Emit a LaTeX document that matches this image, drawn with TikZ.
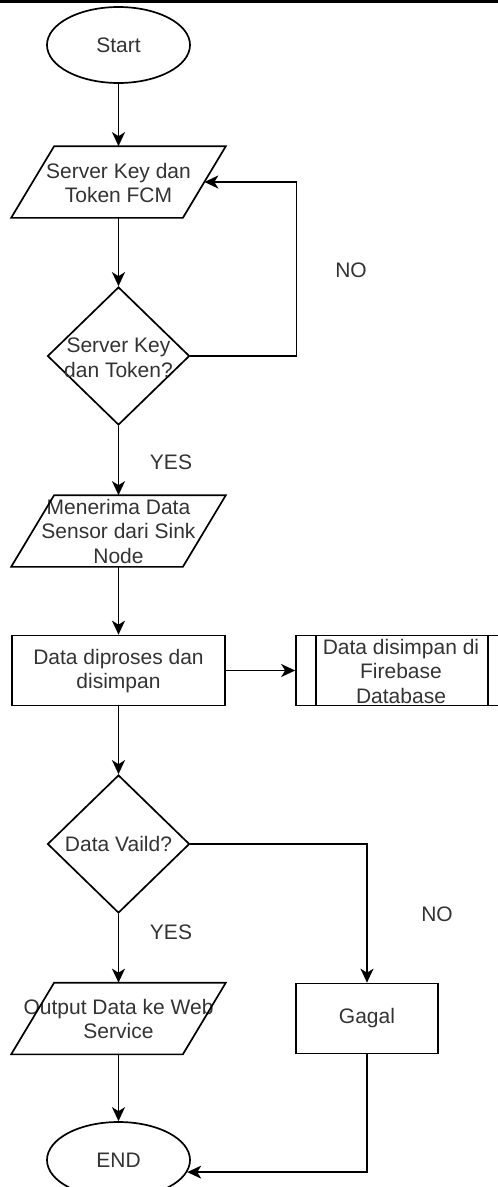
\documentclass[tikz,border=0pt]{standalone}
\usepackage{fontspec}
\setmainfont{Liberation Sans}
\usetikzlibrary{shapes.geometric,arrows.meta}

\begin{document}
\begin{tikzpicture}[x=1pt,y=-1pt,line width=1.7pt]
        \tikzset{every node/.style={font=\fontsize{21}{24.5}\selectfont,text=black!80},
            terminal/.style={draw,ellipse,minimum width=143pt,minimum height=76pt,inner sep=0pt},
            io/.style={rectangle,minimum width=170pt,minimum height=70pt,inner sep=0pt},
            decision/.style={draw,diamond,minimum width=142pt,minimum height=138pt,inner sep=0pt},
            process/.style={draw,rectangle,minimum width=213pt,minimum height=70pt,inner sep=0pt},
            subproc/.style={process,minimum width=212pt},
            inside/.style={align=center,inner sep=0pt},
            arrow/.style={draw,-{Stealth[length=14pt,width=13pt,inset=4pt]}}}
        \useasboundingbox (0,0) rectangle (498,1187);
        \fill (0,0) rectangle (498,3);
        % left column
        \node[terminal] (start) at (118.5,45) {Start};
        \node[io] (in1) at (118.5,182) {};
        \node[inside] (in1txt) at (118.5,183) {Server Key dan\\Token FCM};
        \node[decision] (dec1) at (118.5,356) {};
        \node[inside] (dec1txt) at (118.5,358) {Server Key\\dan Token?};
        \node[io] (in2) at (118.5,531) {};
        \node[inside] (in2txt) at (118.5,531) {Menerima Data\\Sensor dari Sink\\Node};
        \node[process] (proc) at (118.5,670.5) {};
        \node[inside] (proctxt) at (118.5,671) {Data diproses dan\\disimpan};
        \node[decision] (dec2) at (118.5,844) {};
        \node[inside] (dec2txt) at (118.5,844) {Data Vaild?};
        \node[io] (out) at (118.5,1018.5) {};
        \node[inside] (outtxt) at (118.5,1019) {Output Data ke Web\\Service};
        \node[terminal] (stop) at (118.5,1160) {END};
        % slanted input/output boxes
        \foreach \n in {in1,in2,out}
            \draw ([xshift=-21.5pt]\n.south west) -- ([xshift=-21.5pt]\n.south east)
                -- ([xshift=21.5pt]\n.north east) -- ([xshift=21.5pt]\n.north west) -- cycle;
        % right column
        \node[subproc] (store) at (402,670.5) {};
        \node[inside] (storetxt) at (401,671) {Data disimpan di\\Firebase\\Database};
        \node[process,minimum width=142pt] (gagal) at (367,1018.5) {Gagal};
        \draw ([xshift=21pt]store.north west) -- ([xshift=21pt]store.south west);
        \draw ([xshift=-21pt]store.north east) -- ([xshift=-21pt]store.south east);
        % labels
        \node (no1) at (351,270) {NO};
        \node (yes1) at (171,462) {YES};
        \node (yes2) at (171,932) {YES};
        \node (no2) at (437,914) {NO};
        % connectors
        \draw[arrow] (start) -- (in1);
        \draw[arrow] (in1) -- (dec1);
        \draw[arrow] (dec1.east) -- ++(106,0) |- (in1.east);
        \draw[arrow] (dec1) -- (in2);
        \draw[arrow] (in2) -- (proc);
        \draw[arrow] (proc) -- (store);
        \draw[arrow] (proc) -- (dec2);
        \draw[arrow] (dec2) -- (out);
        \draw[arrow] (dec2.east) -| (gagal);
        \draw[arrow] (out) -- (stop);
        \draw[arrow] (gagal) |- (stop.-10);
\end{tikzpicture}
\end{document}
